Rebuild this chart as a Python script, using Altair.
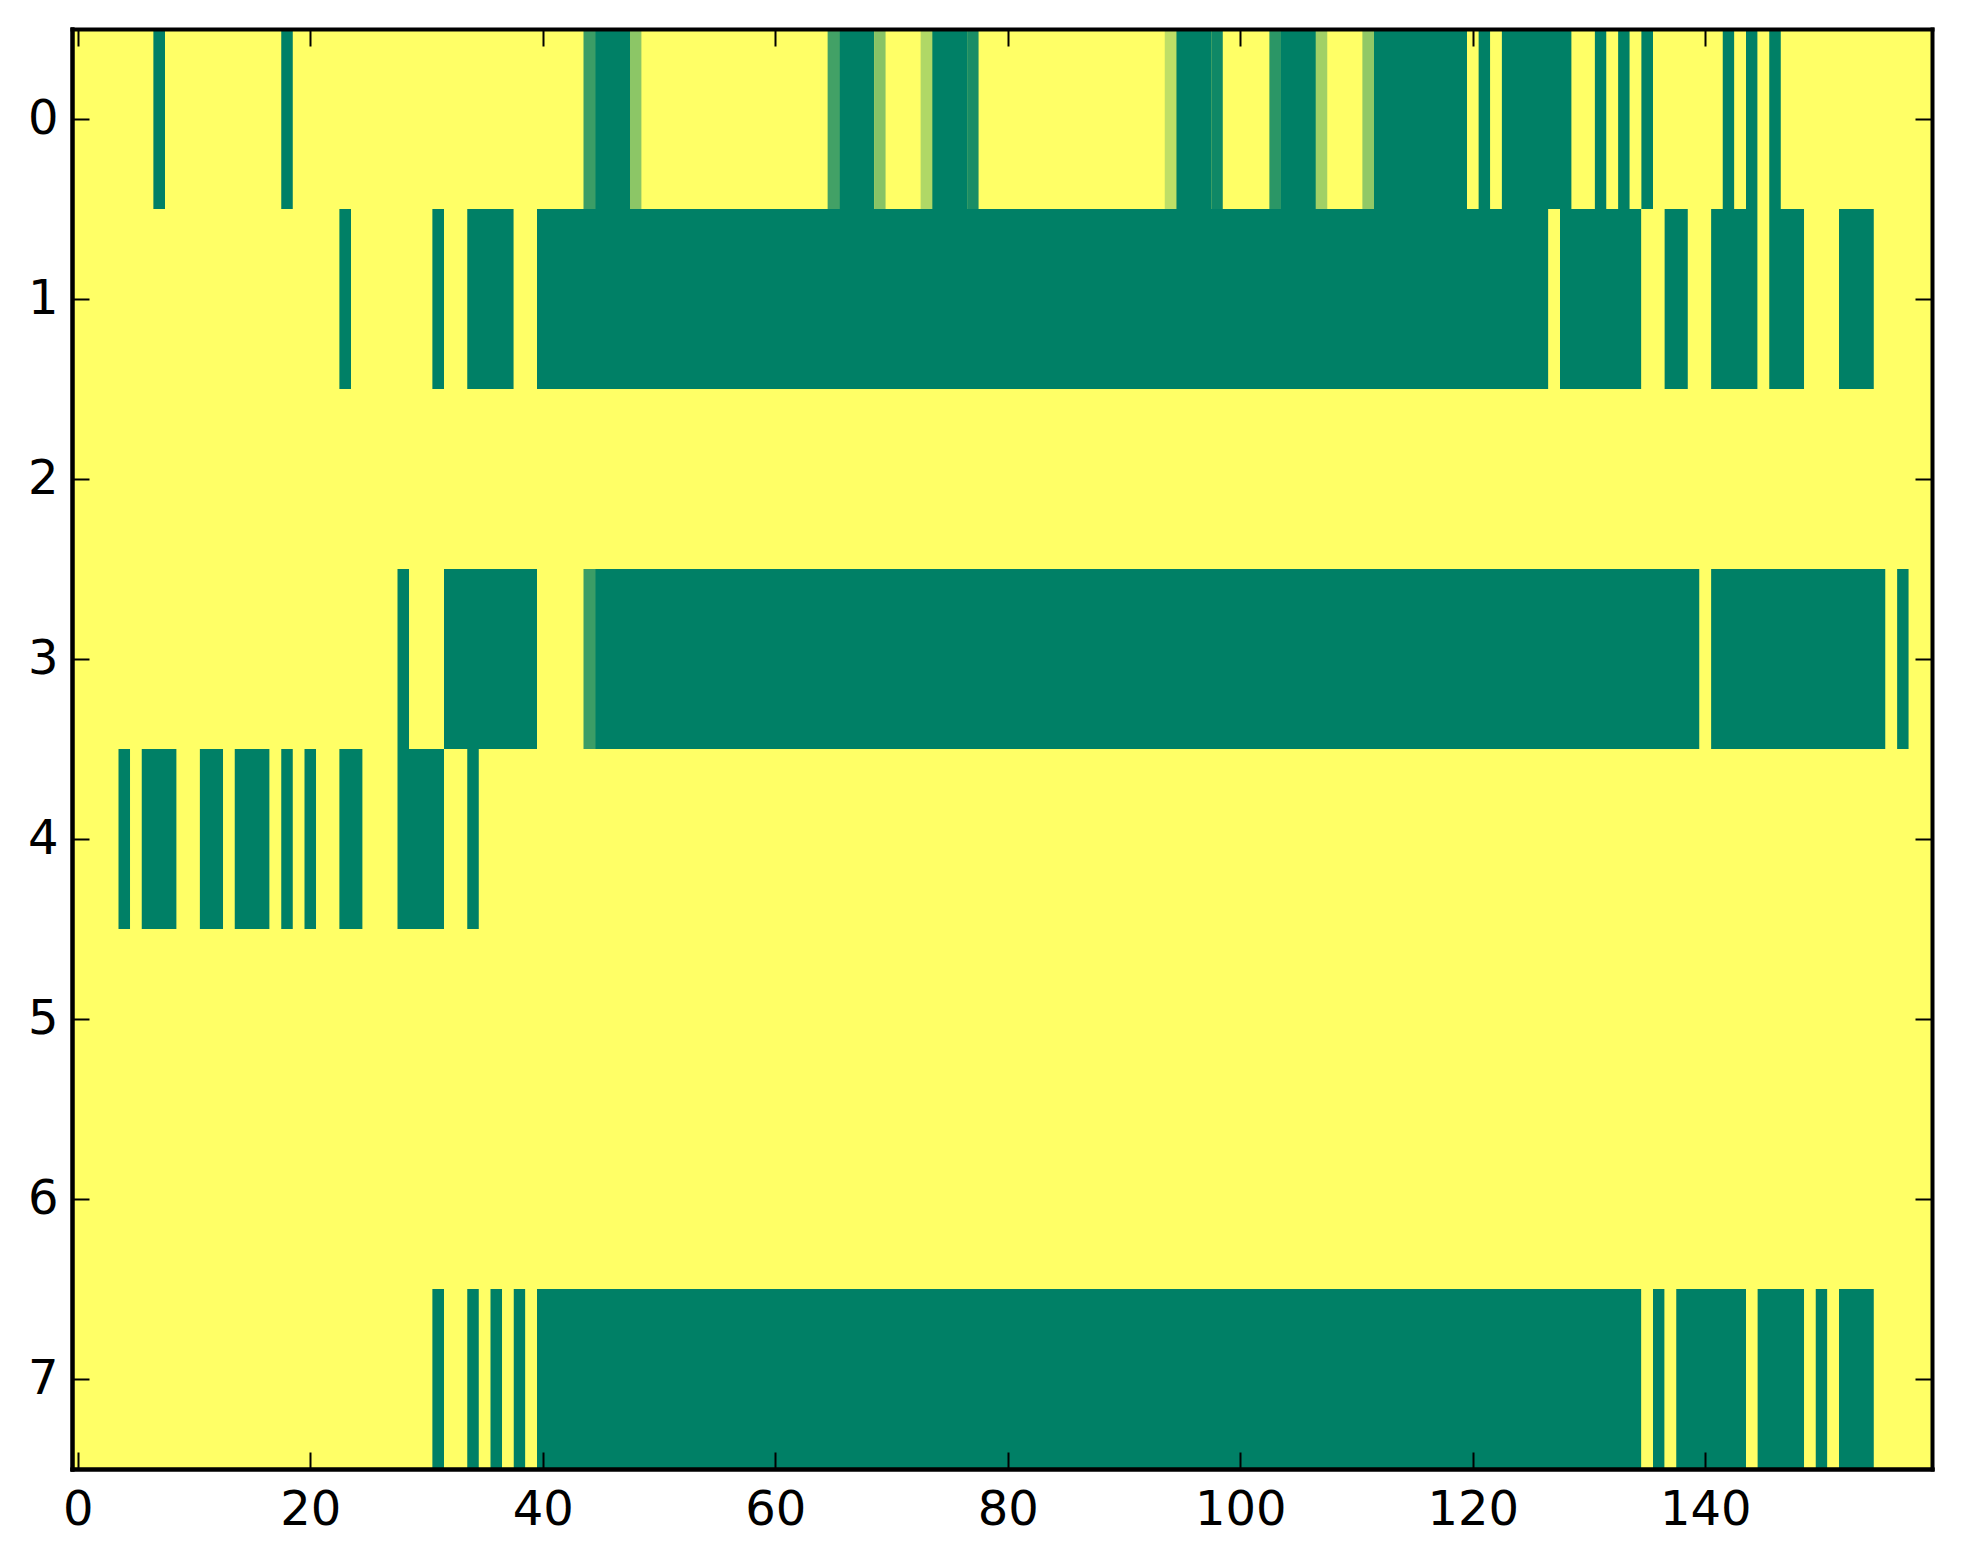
import altair as alt
import pandas as pd

N_COLS = 160
N_ROWS = 8

# columns that are fully "on" (value 1), as inclusive ranges, per row
ROW0_RUNS = [(7, 7), (18, 18), (45, 47), (66, 68), (74, 76), (95, 97), (104, 106),
             (112, 119), (121, 121), (123, 128), (131, 131), (133, 133), (135, 135),
             (142, 142), (144, 144), (146, 146)]
ROW1_RUNS = [(23, 23), (31, 31), (34, 37), (40, 126), (128, 134), (137, 138),
             (141, 144), (146, 148), (152, 154)]
ROW3_RUNS = [(28, 28), (32, 39), (45, 139), (141, 155), (157, 157)]
ROW4_RUNS = [(4, 4), (6, 8), (11, 12), (14, 16), (18, 18), (20, 20), (23, 24),
             (28, 31), (34, 34)]
ROW7_RUNS = [(31, 31), (34, 34), (36, 36), (38, 38), (40, 134), (136, 136),
             (138, 143), (145, 148), (150, 150), (152, 154)]

# cells with in-between values
ROW0_PARTIAL = {44: 0.77, 48: 0.45, 65: 0.74, 69: 0.47, 73: 0.31, 77: 0.9,
                94: 0.25, 98: 0.94, 103: 0.83, 107: 0.37, 111: 0.43}
ROW3_PARTIAL = {44: 0.77}

RUNS = {0: ROW0_RUNS, 1: ROW1_RUNS, 3: ROW3_RUNS, 4: ROW4_RUNS, 7: ROW7_RUNS}
PARTIAL = {0: ROW0_PARTIAL, 3: ROW3_PARTIAL}

X_TICKS = [0, 20, 40, 60, 80, 100, 120, 140]
Y_TICKS = [0, 1, 2, 3, 4, 5, 6, 7]

W, H = 1860, 1440
FONT = 'DejaVu Sans'
TICK_LEN = 17


def build_segments():
    """Turn the per-row runs into horizontal segments of equal value."""
    recs = []
    for r in range(N_ROWS):
        vals = [0.0] * N_COLS
        for a, b in RUNS.get(r, []):
            for c in range(a, b + 1):
                vals[c] = 1.0
        for c, v in PARTIAL.get(r, {}).items():
            vals[c] = v
        start = 0
        for c in range(1, N_COLS + 1):
            if c == N_COLS or vals[c] != vals[start]:
                recs.append({'x0': start - 0.5, 'x1': c - 0.5,
                             'y0': r - 0.5, 'y1': r + 0.5,
                             'value': vals[start]})
                start = c
    return pd.DataFrame(recs)


seg = build_segments()

xs = alt.Scale(domain=[-0.5, N_COLS - 0.5], nice=False, zero=False)
ys = alt.Scale(domain=[-0.5, N_ROWS - 0.5], nice=False, zero=False, reverse=True)
cs = alt.Scale(domain=[0, 1], range=['#ffff66', '#008066'], interpolate='rgb')

frame = dict(domain=True, domainColor='black', domainWidth=4, domainCap='square',
             grid=False, title=None, zindex=1)

heat = alt.Chart(seg).mark_rect().encode(
    x=alt.X('x0:Q', scale=xs,
            axis=alt.Axis(orient='bottom', values=X_TICKS, ticks=False, tickSize=0,
                          labelFontSize=48, labelFont=FONT, labelColor='black',
                          labelPadding=17, labelFlush=False, **frame)),
    x2='x1',
    y=alt.Y('y0:Q', scale=ys,
            axis=alt.Axis(orient='left', values=Y_TICKS, ticks=False, tickSize=0,
                          labelFontSize=48, labelFont=FONT, labelColor='black',
                          labelPadding=14, **frame)),
    y2='y1',
    color=alt.Color('value:Q', scale=cs, legend=None),
)

anchor = pd.DataFrame({'tx': [0], 'ty': [0]})


def tick_layer(x_orient, y_orient):
    # axes pushed to the opposite edge so their ticks point inward
    tick = dict(labels=False, ticks=True, tickSize=TICK_LEN, tickWidth=2,
                tickColor='black', **frame)
    return alt.Chart(anchor).mark_point(opacity=0).encode(
        x=alt.X('tx:Q', scale=xs,
                axis=alt.Axis(orient=x_orient, offset=-H, values=X_TICKS, **tick)),
        y=alt.Y('ty:Q', scale=ys,
                axis=alt.Axis(orient=y_orient, offset=-W, values=Y_TICKS, **tick)),
    )


chart = alt.layer(
    heat,
    tick_layer('top', 'right'),
    tick_layer('bottom', 'left'),
).resolve_axis(
    x='independent', y='independent'
).properties(
    width=W,
    height=H,
    autosize=alt.AutoSizeParams(type='none'),
    padding={'left': 64, 'top': 21, 'right': 20, 'bottom': 80},
).configure_view(
    stroke=None, fill='#ffff66'
)

chart.save('out.html', embed_options={'renderer': 'svg', 'actions': False})
